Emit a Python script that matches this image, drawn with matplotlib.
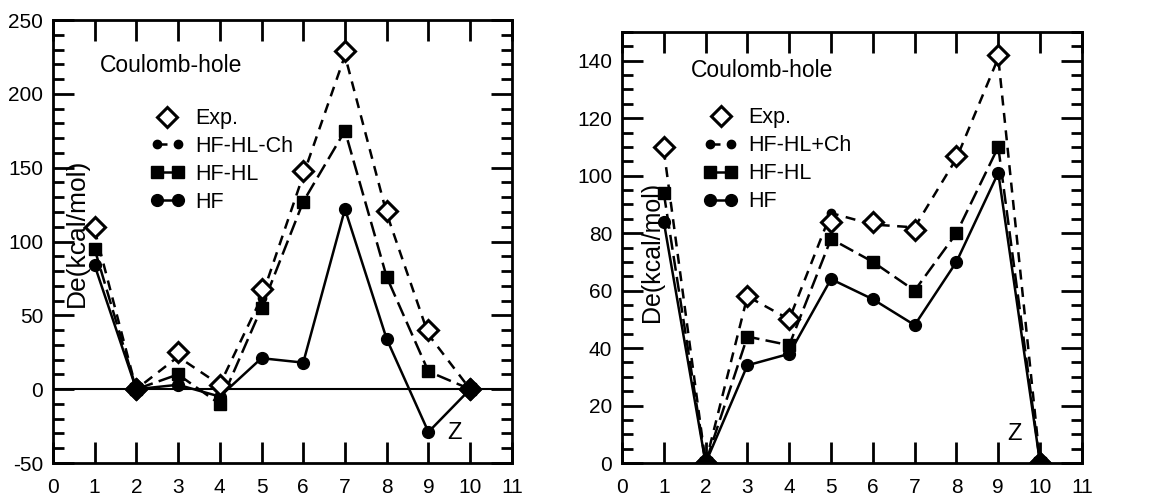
import numpy as np
import matplotlib.pyplot as plt
from matplotlib.legend_handler import HandlerLine2D
from matplotlib.ticker import MultipleLocator

plt.rcParams['font.family'] = ['Liberation Sans', 'DejaVu Sans']
plt.rcParams['axes.unicode_minus'] = False

z = [1, 2, 3, 4, 5, 6, 7, 8, 9, 10]

# left panel
exp_a = [110, 0, 25, 3, 68, 148, 229, 121, 40, 0]
ch_a = [108, 0, 22, 3, 62, 145, 226, 119, 37, 0]
hl_a = [95, 0, 10, -10, 55, 127, 175, 76, 12, 0]
hf_a = [84, 0, 3, -5, 21, 18, 122, 34, -29, 0]

# right panel
exp_b = [110, 0, 58, 50, 84, 84, 81, 107, 142, 0]
ch_b = [109, 0, 58, 50, 87, 83, 82, 106, 141, 0]
hl_b = [94, 0, 44, 41, 78, 70, 60, 80, 110, 0]
hf_b = [84, 0, 34, 38, 64, 57, 48, 70, 101, 0]

labels_a = ['Exp.', 'HF-HL-Ch', 'HF-HL', 'HF']
labels_b = ['Exp.', 'HF-HL+Ch', 'HF-HL', 'HF']

fig = plt.figure(figsize=(11.49, 4.96), dpi=100)
ax1 = fig.add_axes([0.046, 0.0665, 0.3995, 0.893])
ax2 = fig.add_axes([0.5413, 0.0665, 0.4003, 0.869])


def draw(ax, exp, ch, hl, hf, labels, anchor):
    h_hf, = ax.plot(z, hf, '-', color='k', lw=1.8, marker='o', ms=8.5)
    h_hl, = ax.plot(z, hl, color='k', lw=1.8, ls=(0, (6, 2.5)), marker='s', ms=8)
    h_ch, = ax.plot(z, ch, color='k', lw=1.8, ls=(0, (4, 3)), marker='o', ms=6)
    h_exp, = ax.plot(z, exp, ls='none', marker='D', ms=10, mfc='white',
                     mec='k', mew=2.2)
    e = np.array(exp)
    zz = np.array(z)
    ax.plot(zz[e == 0], e[e == 0], ls='none', marker='D', ms=11, color='k')
    ax.set_xlim(0, 11)
    ax.xaxis.set_major_locator(MultipleLocator(1))
    ax.tick_params(which='both', direction='in', top=True, right=True,
                   labelsize=15, width=2)
    ax.tick_params(which='major', length=15)
    ax.tick_params(which='minor', length=8)
    ax.tick_params(axis='x', pad=11)
    ax.tick_params(axis='y', pad=7)
    for s in ax.spines.values():
        s.set_linewidth(2)
    ax.legend([h_exp, h_ch, h_hl, h_hf], labels, loc='upper left',
              bbox_to_anchor=anchor, frameon=False, fontsize=15.5,
              numpoints=2, handlelength=1.6, handletextpad=0.5,
              labelspacing=0.32,
              handler_map={h_exp: HandlerLine2D(numpoints=1)})


draw(ax1, exp_a, ch_a, hl_a, hf_a, labels_a, (0.17, 0.845))
ax1.set_ylim(-50, 250)
ax1.yaxis.set_major_locator(MultipleLocator(50))
ax1.yaxis.set_minor_locator(MultipleLocator(10))
ax1.axhline(0, color='k', lw=1.5, zorder=1)
ax1.text(1.13, 215, 'Coulomb-hole', fontsize=16.5)
ax1.text(9.45, -34, 'Z', fontsize=17)
ax1.text(0.026, 0.52, 'De(kcal/mol)', transform=ax1.transAxes, rotation=90,
         fontsize=19, va='center', ha='left')

draw(ax2, exp_b, ch_b, hl_b, hf_b, labels_b, (0.135, 0.87))
ax2.set_ylim(0, 150)
ax2.yaxis.set_major_locator(MultipleLocator(20))
ax2.yaxis.set_minor_locator(MultipleLocator(5))
ax2.text(1.65, 134.5, 'Coulomb-hole', fontsize=16.5)
ax2.text(9.21, 8, 'Z', fontsize=17)
ax2.text(0.04, 0.49, 'De(kcal/mol)', transform=ax2.transAxes, rotation=90,
         fontsize=18, va='center', ha='left')

fig.savefig('out.png', dpi=100)
